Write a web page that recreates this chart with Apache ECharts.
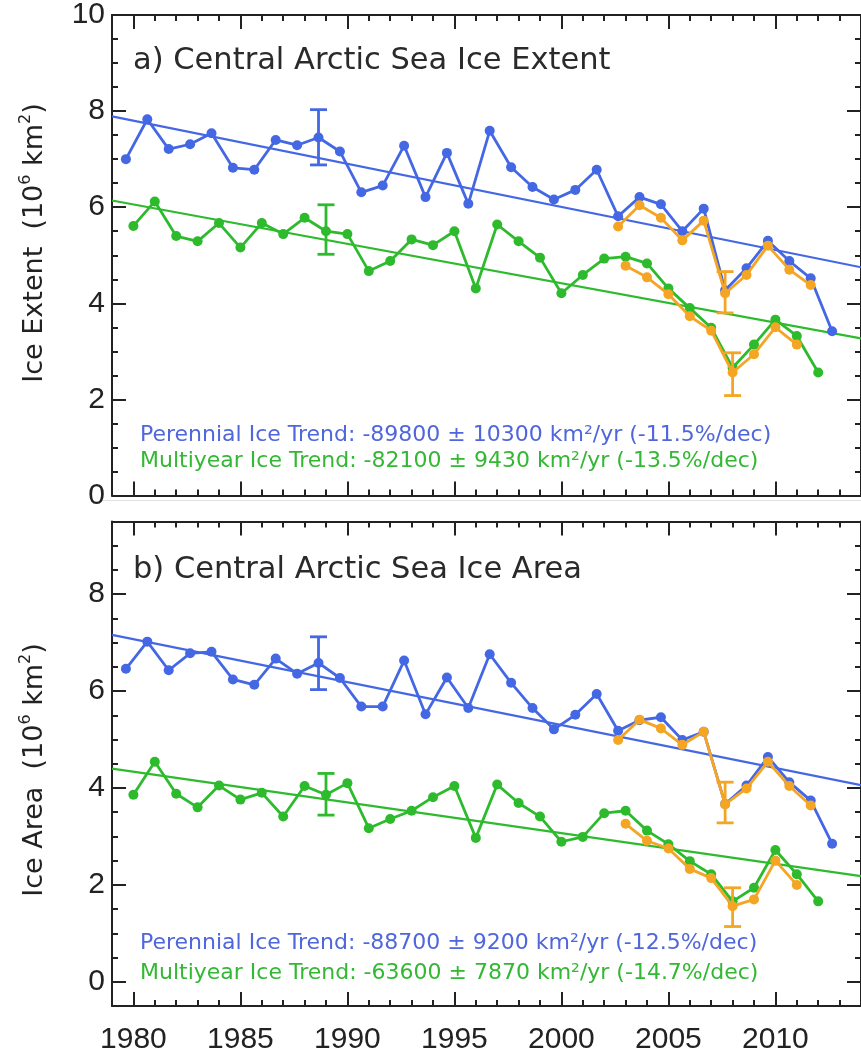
<!DOCTYPE html>
<html><head><meta charset="utf-8">
<script src="https://cdn.jsdelivr.net/npm/echarts@6/dist/echarts.min.js"></script>
<style>html,body{margin:0;padding:0;background:#fff}#c{width:861px;height:1055px}</style>
</head><body><div id="c"></div>
<script>
// ---------------- DATA ----------------
const perennialYears = [1979,1980,1981,1982,1983,1984,1985,1986,1987,1988,1989,1990,1991,1992,1993,1994,1995,1996,1997,1998,1999,2000,2001,2002,2003,2004,2005,2006,2007,2008,2009,2010,2011,2012];
const multiyearYears = [1980,1981,1982,1983,1984,1985,1986,1987,1988,1989,1990,1991,1992,1993,1994,1995,1996,1997,1998,1999,2000,2001,2002,2003,2004,2005,2006,2007,2008,2009,2010,2011,2012];
const amsrPerennialYears = [2002,2003,2004,2005,2006,2007,2008,2009,2010,2011];
const amsrMultiyearYears = [2003,2004,2005,2006,2007,2008,2009,2010,2011];

// a) extent (10^6 km^2)
const extentPerennial = [7.00,7.83,7.21,7.31,7.54,6.82,6.78,7.40,7.29,7.45,7.16,6.31,6.45,7.28,6.21,7.13,6.07,7.59,6.83,6.42,6.16,6.36,6.78,5.81,6.21,6.06,5.50,5.97,4.27,4.73,5.30,4.88,4.52,3.42];
const extentMultiyear = [5.61,6.12,5.40,5.29,5.67,5.16,5.67,5.44,5.78,5.50,5.44,4.67,4.88,5.33,5.21,5.50,4.31,5.64,5.29,4.95,4.21,4.59,4.93,4.97,4.83,4.31,3.90,3.49,2.66,3.14,3.66,3.32,2.56];
const extentAmsrPerennial = [5.60,6.04,5.78,5.31,5.72,4.21,4.59,5.20,4.70,4.38];
const extentAmsrMultiyear = [4.78,4.54,4.19,3.73,3.43,2.56,2.94,3.50,3.14];
const extentTrendPerennial = [[1979,7.89],[2014,4.75]];
const extentTrendMultiyear = [[1979,6.14],[2014,3.27]];
const extentErrPerennial = [1988,6.88,8.03];
const extentErrMultiyear = [1989,5.02,6.05];
const extentErrAmsrPerennial = [2007,3.80,4.66];
const extentErrAmsrMultiyear = [2008,2.08,2.97];

// b) area (10^6 km^2)
const areaPerennial = [6.46,7.02,6.43,6.78,6.81,6.24,6.13,6.67,6.36,6.58,6.27,5.68,5.68,6.63,5.52,6.28,5.65,6.76,6.17,5.65,5.21,5.51,5.94,5.18,5.40,5.46,4.99,5.16,3.67,4.05,4.64,4.12,3.74,2.85];
const areaMultiyear = [3.86,4.54,3.88,3.60,4.05,3.76,3.90,3.41,4.04,3.86,4.10,3.17,3.36,3.53,3.81,4.04,2.97,4.07,3.69,3.41,2.89,2.99,3.48,3.53,3.12,2.84,2.49,2.22,1.66,1.94,2.72,2.22,1.66];
const areaAmsrPerennial = [4.99,5.41,5.23,4.89,5.16,3.66,3.99,4.54,4.04,3.64];
const areaAmsrMultiyear = [3.26,2.91,2.75,2.33,2.14,1.56,1.70,2.50,2.00];
const areaTrendPerennial = [[1979,7.16],[2014,4.06]];
const areaTrendMultiyear = [[1979,4.40],[2014,2.18]];
const areaErrPerennial = [1988,6.03,7.12];
const areaErrMultiyear = [1989,3.44,4.30];
const areaErrAmsrPerennial = [2007,3.28,4.12];
const areaErrAmsrMultiyear = [2008,1.14,1.94];

const xMajorTicks = [1980,1985,1990,1995,2000,2005,2010];
const yMajorTicksA = [0,2,4,6,8,10];
const yMajorTicksB = [0,2,4,6,8];

const titleA = 'a) Central Arctic Sea Ice Extent';
const titleB = 'b) Central Arctic Sea Ice Area';
const trendTextA = ['Perennial Ice Trend: -89800 \u00b1 10300 km\u00b2/yr (-11.5%/dec)', 'Multiyear Ice Trend: -82100 \u00b1 9430 km\u00b2/yr (-13.5%/dec)'];
const trendTextB = ['Perennial Ice Trend: -88700 \u00b1 9200 km\u00b2/yr (-12.5%/dec)', 'Multiyear Ice Trend: -63600 \u00b1 7870 km\u00b2/yr (-14.7%/dec)'];

// ---------------- STYLE ----------------
const PER_OFFSET = 0.65;   // perennial (September) points sit late in the year
const MY_OFFSET = 0.0;     // multiyear (winter) points sit at the year start
const BLUE = '#4467E4', GREEN = '#2DBB2D', ORANGE = '#F5A524', INK = '#222';
const TXT_BLUE = '#4F66DC', TXT_GREEN = '#33B833';
const X_MIN = 1979, X_MAX = 2014;
const TICK_FONT = '"Liberation Sans", Arial, sans-serif';
const TEXT_FONT = '"DejaVu Sans", sans-serif';

function xAxes(gi, withLabels) {
  const base = {type:'value', gridIndex:gi, min:X_MIN, max:X_MAX, splitLine:{show:false}};
  const line = {show:true, onZero:false, lineStyle:{color:INK, width:2}};
  const noLine = {show:false, onZero:false};
  const tk = (len, cv) => Object.assign({show:true, inside:true, length:len, lineStyle:{color:INK, width:2}}, cv ? {customValues:cv} : {});
  return [
    Object.assign({}, base, {position:'bottom', axisLine:line, axisTick:tk(14, xMajorTicks),
      axisLabel:{show:withLabels, customValues:xMajorTicks, margin:19, fontSize:30, fontFamily:TICK_FONT, color:INK, formatter:v=>String(v)}}),
    Object.assign({}, base, {position:'bottom', interval:1, axisLine:noLine, axisTick:tk(6), axisLabel:{show:false}}),
    Object.assign({}, base, {position:'top', axisLine:line, axisTick:tk(14, xMajorTicks), axisLabel:{show:false}}),
    Object.assign({}, base, {position:'top', interval:1, axisLine:noLine, axisTick:tk(6), axisLabel:{show:false}})
  ];
}
function yAxes(gi, min, max, majors) {
  const base = {type:'value', gridIndex:gi, min:min, max:max, splitLine:{show:false}};
  const line = {show:true, onZero:false, lineStyle:{color:INK, width:2}};
  const noLine = {show:false, onZero:false};
  const tk = (len, cv) => Object.assign({show:true, inside:true, length:len, lineStyle:{color:INK, width:2}}, cv ? {customValues:cv} : {});
  return [
    Object.assign({}, base, {position:'left', axisLine:line, axisTick:tk(14, majors),
      axisLabel:{show:true, customValues:majors, margin:7, fontSize:30, fontFamily:TICK_FONT, color:INK, formatter:v=>String(v)}}),
    Object.assign({}, base, {position:'left', interval:0.5, axisLine:noLine, axisTick:tk(6), axisLabel:{show:false}}),
    Object.assign({}, base, {position:'right', axisLine:line, axisTick:tk(14, majors), axisLabel:{show:false}}),
    Object.assign({}, base, {position:'right', interval:0.5, axisLine:noLine, axisTick:tk(6), axisLabel:{show:false}})
  ];
}
function dataLine(years, vals, off, color, axis, z) {
  return {type:'line', xAxisIndex:axis, yAxisIndex:axis, z:z, data:years.map((y,i)=>[y+off, vals[i]]),
    symbol:'circle', symbolSize:10, showSymbol:true, lineStyle:{color:color, width:2.8}, itemStyle:{color:color},
    emphasis:{disabled:true}, silent:true};
}
function trendLine(pts, color, axis) {
  return {type:'line', xAxisIndex:axis, yAxisIndex:axis, z:2, data:pts, symbol:'none',
    lineStyle:{color:color, width:2.2}, silent:true};
}
function errBar(e, off, color, axis) {
  return {type:'custom', xAxisIndex:axis, yAxisIndex:axis, z:6, silent:true,
    data:[[e[0]+off, e[1], e[2]]],
    renderItem:function(params, api){
      const x = api.value(0);
      const a = api.coord([x, api.value(1)]), b = api.coord([x, api.value(2)]);
      const w = 8.5, st = {stroke:color, lineWidth:2.8};
      return {type:'group', children:[
        {type:'line', shape:{x1:a[0], y1:a[1], x2:b[0], y2:b[1]}, style:st},
        {type:'line', shape:{x1:a[0]-w, y1:a[1], x2:a[0]+w, y2:a[1]}, style:st},
        {type:'line', shape:{x1:b[0]-w, y1:b[1], x2:b[0]+w, y2:b[1]}, style:st}
      ]};
    }};
}
function txt(x, y, text, size, color) {
  return {type:'text', x:x, y:y, silent:true, style:{text:text, fontSize:size, fontFamily:TEXT_FONT, fill:color, align:'left', verticalAlign:'middle'}};
}
function yTitle(x, y, main) {
  return {type:'text', x:x, y:y, rotation:Math.PI/2, silent:true, style:{
    text:'{t|' + main + '  (10}{s|6}{t| km}{s|2}{t|)}', align:'center', verticalAlign:'middle',
    rich:{t:{fontSize:27, lineHeight:34, fontFamily:TEXT_FONT, fill:INK, verticalAlign:'middle'},
          s:{fontSize:16, lineHeight:16, fontFamily:TEXT_FONT, fill:INK, verticalAlign:'top'}}}};
}

const chart = echarts.init(document.getElementById('c'), null, {renderer:'canvas'});
chart.setOption({
  animation:false,
  backgroundColor:'#fff',
  grid:[{left:112, top:11.5, width:756, height:484}, {left:112, top:521.5, width:756, height:484.5}],
  xAxis:[].concat(xAxes(0,false), xAxes(1,true)),
  yAxis:[].concat(yAxes(0,0,10,yMajorTicksA), yAxes(1,-0.5,9.5,yMajorTicksB)),
  series:[
    trendLine(extentTrendPerennial, BLUE, 0),
    trendLine(extentTrendMultiyear, GREEN, 0),
    dataLine(perennialYears, extentPerennial, PER_OFFSET, BLUE, 0, 3),
    dataLine(multiyearYears, extentMultiyear, MY_OFFSET, GREEN, 0, 3),
    dataLine(amsrPerennialYears, extentAmsrPerennial, PER_OFFSET, ORANGE, 0, 4),
    dataLine(amsrMultiyearYears, extentAmsrMultiyear, MY_OFFSET, ORANGE, 0, 4),
    errBar(extentErrPerennial, PER_OFFSET, BLUE, 0),
    errBar(extentErrMultiyear, MY_OFFSET, GREEN, 0),
    errBar(extentErrAmsrPerennial, PER_OFFSET, ORANGE, 0),
    errBar(extentErrAmsrMultiyear, MY_OFFSET, ORANGE, 0),

    trendLine(areaTrendPerennial, BLUE, 4),
    trendLine(areaTrendMultiyear, GREEN, 4),
    dataLine(perennialYears, areaPerennial, PER_OFFSET, BLUE, 4, 3),
    dataLine(multiyearYears, areaMultiyear, MY_OFFSET, GREEN, 4, 3),
    dataLine(amsrPerennialYears, areaAmsrPerennial, PER_OFFSET, ORANGE, 4, 4),
    dataLine(amsrMultiyearYears, areaAmsrMultiyear, MY_OFFSET, ORANGE, 4, 4),
    errBar(areaErrPerennial, PER_OFFSET, BLUE, 4),
    errBar(areaErrMultiyear, MY_OFFSET, GREEN, 4),
    errBar(areaErrAmsrPerennial, PER_OFFSET, ORANGE, 4),
    errBar(areaErrAmsrMultiyear, MY_OFFSET, ORANGE, 4)
  ],
  graphic:[
    {type:'line', silent:true, shape:{x1:100, y1:500.5, x2:861, y2:500.5}, style:{stroke:'#e2e2e2', lineWidth:1.2}},
    txt(133, 61, titleA, 30.5, '#2a2a2a'),
    txt(133, 570, titleB, 30.5, '#2a2a2a'),
    txt(140, 435, trendTextA[0], 22, TXT_BLUE),
    txt(140, 461, trendTextA[1], 22, TXT_GREEN),
    txt(140, 943, trendTextB[0], 22, TXT_BLUE),
    txt(140, 973, trendTextB[1], 22, TXT_GREEN),
    yTitle(35, 243, 'Ice Extent'),
    yTitle(35, 770, 'Ice Area')
  ]
});
</script>
</body></html>
